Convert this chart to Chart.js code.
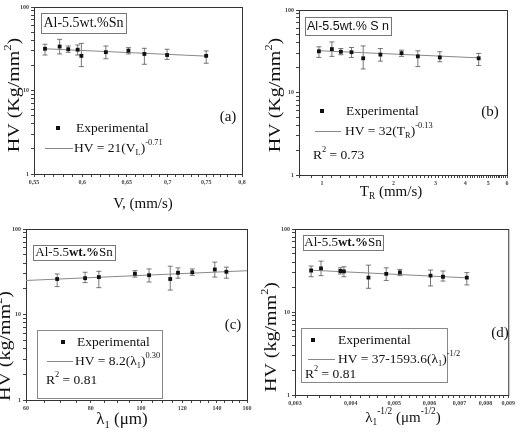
<!DOCTYPE html>
<html>
<head>
<meta charset="utf-8">
<script src="https://cdn.jsdelivr.net/npm/chart.js@4.4.1/dist/chart.umd.min.js"></script>
<style>
  body { margin: 0; background: #fff; }
  #wrap { position: relative; width: 517px; height: 444px; overflow: hidden; }
  canvas { position: absolute; }
</style>
</head>
<body>
<div id="wrap">
  <canvas id="panelA" width="258" height="215" style="left:0;top:0"></canvas>
  <canvas id="panelB" width="259" height="215" style="left:258px;top:0"></canvas>
  <canvas id="panelC" width="258" height="229" style="left:0;top:215px"></canvas>
  <canvas id="panelD" width="259" height="229" style="left:258px;top:215px"></canvas>
</div>
<script>
// Microhardness values (same 10 samples in each panel), order of increasing V_L
const hv     = [31.6, 33.6, 31.2, 30.8, 26.0, 28.8, 30.0, 27.4, 26.6, 26.0];
const hvHigh = [35.8, 41.0, 34.1, 35.1, 36.7, 34.1, 32.6, 32.0, 31.2, 29.8];
const hvLow  = [26.6, 27.4, 28.7, 26.6, 19.3, 24.0, 27.4, 20.6, 23.6, 21.2];

// x values of the samples for each panel
const vL        = [0.561, 0.576, 0.585, 0.595, 0.599, 0.626, 0.652, 0.671, 0.699, 0.750];
const tR        = [0.97, 1.10, 1.20, 1.33, 1.49, 1.76, 2.16, 2.53, 3.13, 4.56];
const lambda1   = [146, 138.7, 125.5, 117.8, 113.8, 103.6, 97.3, 82.9, 78.0, 68.9];
const lambdaInv = [0.00326, 0.00343, 0.00379, 0.00386, 0.00438, 0.00480, 0.00515, 0.00603, 0.00643, 0.00727];

// fitted lines (end points)
const fitAx = [0.561, 0.75],       fitAy = [31.6, 25.8];
const fitBx = [0.97, 4.56],        fitBy = [32.1, 26.3];
const fitCx = [60, 160],           fitCy = [25.0, 32.5];
const fitDx = [0.00326, 0.00727],  fitDy = [31.9, 25.8];

// tick labels
const yLabels = [1, 10, 100];
const aLabels = [0.55, 0.6, 0.65, 0.7, 0.75, 0.8];
const bLabels = [1, 2, 3, 4, 5, 6];
const cLabels = [60, 80, 100, 120, 140, 160];
const dLabels = [0.003, 0.004, 0.005, 0.006, 0.007, 0.008, 0.009];

const SERIF = '"Liberation Serif", "DejaVu Serif", serif';
const SANS = '"Liberation Sans", "DejaVu Sans", sans-serif';

// minor tick values between min and max
function tickRange(min, max, step) {
    const out = [];
    const n = Math.round((max - min) / step);
    for (let k = 0; k <= n; k++) out.push(Number((min + k * step).toFixed(6)));
    return out;
}
const yTicks = [1, 2, 3, 4, 5, 6, 7, 8, 9, 10, 20, 30, 40, 50, 60, 70, 80, 90, 100];

function fmt(v) { return String(v).replace('.', ','); }

// rich text with sub/superscripts
function segFont(seg, o) {
    const s = (seg.sub || seg.sup) ? o.size * 0.62 : o.size;
    return (seg.bold ? 'bold ' : '') + s + 'px ' + (o.family || SERIF);
}
function drawRich(ctx, segs, x, y, o) {
    ctx.save();
    ctx.translate(x, y);
    if (o.rotate) ctx.rotate(o.rotate);
    if (o.stretch) ctx.scale(o.stretch, 1);
    let w = 0;
    segs.forEach(seg => { ctx.font = segFont(seg, o); w += ctx.measureText(seg.t).width; });
    let cx = o.align === 'center' ? -w / 2 : 0;
    ctx.textBaseline = 'middle';
    ctx.textAlign = 'left';
    ctx.fillStyle = o.color || '#111';
    segs.forEach(seg => {
        ctx.font = segFont(seg, o);
        const dy = seg.sub ? o.size * 0.32 : seg.sup ? -o.size * 0.42 : 0;
        ctx.fillText(seg.t, cx, dy);
        cx += ctx.measureText(seg.t).width;
    });
    ctx.restore();
}

// plugin: frame, error bars, titles, labels, legend
function decoPlugin(p) {
    return {
        id: 'deco',
        beforeDatasetsDraw(chart) {
            const ctx = chart.ctx, a = chart.chartArea;
            const xs = chart.scales.x, ys = chart.scales.y;
            ctx.save();
            ctx.strokeStyle = '#333';
            ctx.lineWidth = 1;
            ctx.strokeRect(a.left + 0.5, a.top + 0.5, a.right - a.left, a.bottom - a.top);
            ctx.strokeStyle = '#555';
            ctx.lineWidth = 0.8;
            p.xs.forEach((xv, i) => {
                const px = xs.getPixelForValue(xv);
                const top = ys.getPixelForValue(hvHigh[i]);
                const bot = ys.getPixelForValue(hvLow[i]);
                ctx.beginPath();
                ctx.moveTo(px, top); ctx.lineTo(px, bot);
                ctx.moveTo(px - 2.5, top); ctx.lineTo(px + 2.5, top);
                ctx.moveTo(px - 2.5, bot); ctx.lineTo(px + 2.5, bot);
                ctx.stroke();
            });
            ctx.restore();
        },
        afterDraw(chart) {
            const ctx = chart.ctx;
            ctx.save();
            // axis titles
            drawRich(ctx, p.yTitle, p.yTitlePos[0], p.yTitlePos[1],
                { size: 16, align: 'center', rotate: -Math.PI / 2, stretch: 1.25 });
            drawRich(ctx, p.xTitle, p.xTitlePos[0], p.xTitlePos[1],
                { size: p.xTitleSize || 15, align: 'center' });
            // alloy box
            const b = p.box;
            ctx.strokeStyle = '#777';
            ctx.lineWidth = 1;
            ctx.fillStyle = '#fff';
            ctx.fillRect(b[0], b[1], b[2], b[3]);
            ctx.strokeRect(b[0] + 0.5, b[1] + 0.5, b[2], b[3]);
            drawRich(ctx, p.boxText, b[0] + b[2] / 2, b[1] + b[3] / 2 + 0.5,
                { size: p.boxSize || 14, align: 'center', family: p.boxFamily });
            // panel tag
            drawRich(ctx, [{ t: p.tag }], p.tagPos[0], p.tagPos[1], { size: 15, align: 'center' });
            // legend
            const L = p.legend;
            if (L.frame) {
                ctx.fillStyle = '#fff';
                ctx.fillRect(L.frame[0], L.frame[1], L.frame[2], L.frame[3]);
                ctx.strokeStyle = '#888';
                ctx.strokeRect(L.frame[0] + 0.5, L.frame[1] + 0.5, L.frame[2], L.frame[3]);
            }
            ctx.fillStyle = '#111';
            ctx.fillRect(L.marker[0] - 2, L.marker[1] - 2, 4, 4);
            drawRich(ctx, [{ t: 'Experimental' }], L.expText[0], L.expText[1], { size: 13.5 });
            ctx.strokeStyle = '#888';
            ctx.lineWidth = 1;
            ctx.beginPath();
            ctx.moveTo(L.line[0], L.line[2] + 0.5);
            ctx.lineTo(L.line[1], L.line[2] + 0.5);
            ctx.stroke();
            drawRich(ctx, p.formula, L.fitText[0], L.fitText[1], { size: 13.5 });
            if (p.r2) drawRich(ctx, [{ t: 'R' }, { t: '2', sup: true }, { t: ' = ' + p.r2 }],
                L.r2[0], L.r2[1], { size: 13.5 });
            ctx.restore();
        }
    };
}

function makePanel(id, p) {
    const ctx = document.getElementById(id).getContext('2d');
    return new Chart(ctx, {
        type: 'scatter',
        data: {
            datasets: [{
                data: p.xs.map((v, i) => ({ x: v, y: hv[i] })),
                pointStyle: 'rect',
                pointRadius: 2.7,
                backgroundColor: '#111',
                borderColor: '#111',
                borderWidth: 0
            }, {
                data: p.fitX.map((v, i) => ({ x: v, y: p.fitY[i] })),
                showLine: true,
                borderColor: '#888',
                borderWidth: 1,
                pointRadius: 0
            }]
        },
        options: {
            responsive: false,
            animation: false,
            layout: { padding: { top: p.pad[0], right: p.pad[1], left: 0, bottom: 0 } },
            plugins: { legend: { display: false }, tooltip: { enabled: false } },
            scales: {
                x: {
                    type: 'logarithmic',
                    min: p.xMin, max: p.xMax,
                    afterBuildTicks: axis => { axis.ticks = p.xTicks.map(v => ({ value: v })); },
                    afterFit: s => { s.height = p.axisSize[1]; },
                    ticks: {
                        autoSkip: false, maxRotation: 0, minRotation: 0, padding: 2,
                        font: { size: 6, family: SERIF, weight: 'bold' }, color: '#444',
                        callback: v => {
                            const m = p.xLabels.find(l => Math.abs(l - v) < l * 1e-4);
                            return m !== undefined ? fmt(m) : '';
                        }
                    },
                    grid: { drawOnChartArea: false, tickLength: 3, color: '#444' },
                    border: { color: '#333' }
                },
                y: {
                    type: 'logarithmic',
                    min: 1, max: 100,
                    afterBuildTicks: axis => { axis.ticks = yTicks.map(v => ({ value: v })); },
                    afterFit: s => { s.width = p.axisSize[0]; },
                    ticks: {
                        autoSkip: false, padding: 2,
                        font: { size: 6, family: SERIF, weight: 'bold' }, color: '#444',
                        callback: v => yLabels.includes(v) ? String(v) : ''
                    },
                    grid: { drawOnChartArea: false, tickLength: 3, color: '#444' },
                    border: { color: '#333' }
                }
            }
        },
        plugins: [decoPlugin(p)]
    });
}

document.addEventListener('DOMContentLoaded', () => {
    const yTitleK = [{ t: 'HV (Kg/mm' }, { t: '2', sup: true }, { t: ')' }];
    const yTitlek = [{ t: 'HV (kg/mm' }, { t: '2', sup: true }, { t: ')' }];
    const boxBold = [{ t: 'Al-5.5' }, { t: 'wt.%', bold: true }, { t: 'Sn' }];

    // (a) HV vs V_L
    makePanel('panelA', {
        xs: vL, fitX: fitAx, fitY: fitAy,
        xMin: 0.55, xMax: 0.8, xLabels: aLabels, xTicks: tickRange(0.55, 0.8, 0.01),
        pad: [7, 16], axisSize: [34, 41],
        yTitle: yTitleK, yTitlePos: [15, 95],
        xTitle: [{ t: 'V, (mm/s)' }], xTitlePos: [143, 204],
        box: [41, 13, 85, 20], boxText: [{ t: 'Al-5.5wt.%Sn' }],
        tag: '(a)', tagPos: [228, 117],
        formula: [{ t: 'HV = 21(V' }, { t: 'L', sub: true }, { t: ')' }, { t: '-0.71', sup: true }],
        legend: { marker: [58, 128], expText: [76, 128], line: [45, 73, 148], fitText: [74, 148] }
    });

    // (b) HV vs T_R
    makePanel('panelB', {
        xs: tR, fitX: fitBx, fitY: fitBy,
        xMin: 0.8, xMax: 6, xLabels: bLabels, xTicks: tickRange(0.8, 6, 0.1),
        pad: [10, 10], axisSize: [41, 40],
        yTitle: yTitleK, yTitlePos: [18, 95],
        xTitle: [{ t: 'T' }, { t: 'R', sub: true }, { t: ' (mm/s)' }], xTitlePos: [133, 192],
        box: [47, 17, 86, 18], boxText: [{ t: 'Al-5.5wt.% S n' }], boxFamily: SANS, boxSize: 12.5,
        tag: '(b)', tagPos: [232, 112],
        formula: [{ t: 'HV = 32(T' }, { t: 'R', sub: true }, { t: ')' }, { t: '-0.13', sup: true }],
        r2: '0.73',
        legend: { marker: [64, 111], expText: [88, 111], line: [57, 83, 131], fitText: [87, 131], r2: [55, 155] }
    });

    // (c) HV vs lambda_1
    makePanel('panelC', {
        xs: lambda1, fitX: fitCx, fitY: fitCy,
        xMin: 60, xMax: 160, xLabels: cLabels, xTicks: tickRange(60, 160, 5),
        pad: [14, 11], axisSize: [26, 44],
        yTitle: yTitlek, yTitlePos: [6, 131],
        xTitle: [{ t: 'λ' }, { t: '1', sub: true }, { t: ' (μm)' }], xTitlePos: [122, 205], xTitleSize: 17,
        box: [33, 30, 82, 15], boxText: boxBold, boxSize: 13,
        tag: '(c)', tagPos: [233, 110],
        formula: [{ t: 'HV = 8.2(λ' }, { t: '1', sub: true }, { t: ')' }, { t: '0.30', sup: true }],
        r2: '0.81',
        legend: { frame: [37, 115, 125, 68], marker: [63, 127], expText: [77, 127],
                  line: [47, 73, 146], fitText: [75, 146], r2: [46, 165] }
    });

    // (d) HV vs lambda_1^-1/2
    makePanel('panelD', {
        xs: lambdaInv, fitX: fitDx, fitY: fitDy,
        xMin: 0.003, xMax: 0.009, xLabels: dLabels, xTicks: tickRange(0.003, 0.009, 0.0002),
        pad: [14, 7], axisSize: [37, 49],
        yTitle: yTitlek, yTitlePos: [14, 122],
        xTitle: [{ t: 'λ' }, { t: '1', sub: true }, { t: '-1/2', sup: true }, { t: ' (μm' }, { t: '-1/2', sup: true }, { t: ')' }],
        xTitlePos: [145, 203],
        box: [45, 20, 80, 15], boxText: boxBold, boxSize: 13,
        tag: '(d)', tagPos: [242, 118],
        formula: [{ t: 'HV = 37-1593.6(λ' }, { t: '1', sub: true }, { t: ')' }, { t: '-1/2', sup: true }],
        r2: '0.81',
        legend: { frame: [43, 113, 146, 54], marker: [55, 125], expText: [80, 125],
                  line: [50, 77, 144], fitText: [80, 144], r2: [47, 159] }
    });
});
</script>
</body>
</html>
